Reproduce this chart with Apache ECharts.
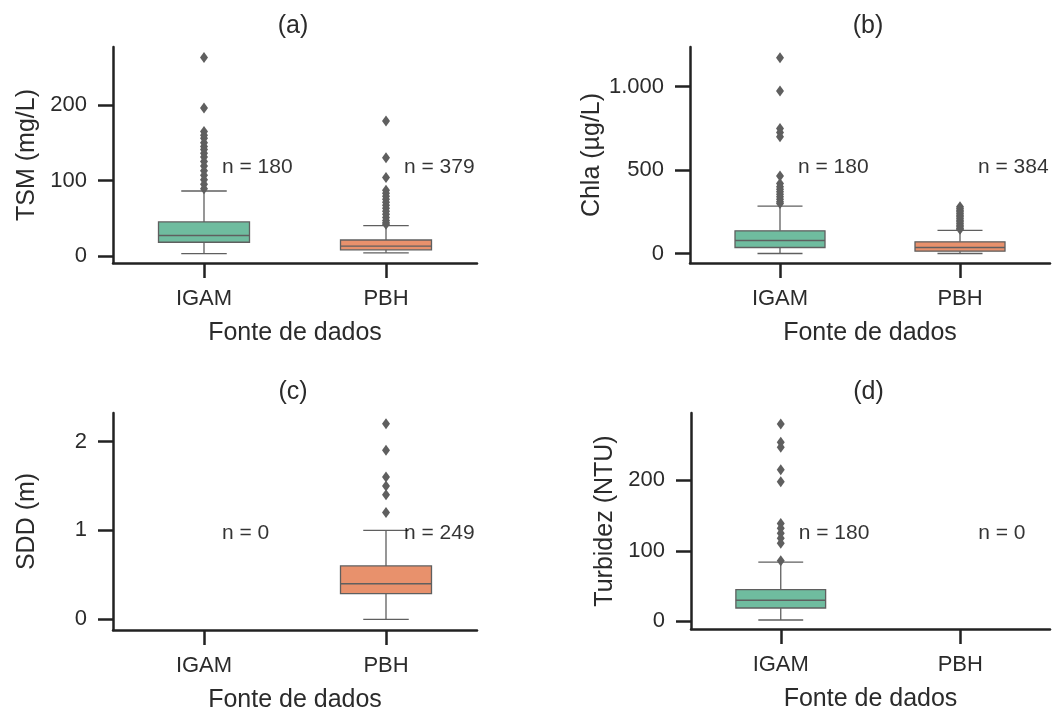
<!DOCTYPE html>
<html><head><meta charset="utf-8">
<script src="https://cdn.jsdelivr.net/npm/echarts@6/dist/echarts.min.js"></script>
<style>html,body{margin:0;padding:0;background:#fff}#c{width:1055px;height:707px}</style>
</head><body><div id="c"></div>
<script>
// ---- data ----
const categories = ['IGAM', 'PBH'];
const panelTitles = ['(a)', '(b)', '(c)', '(d)'];
const yNames = ['TSM (mg/L)', 'Chla (µg/L)', 'SDD (m)', 'Turbidez (NTU)'];
const xName = 'Fonte de dados';
// box stats per category: [lower whisker, Q1, median, Q3, upper whisker]; null = no data
const tsmStats = [[3, 18, 27, 45, 86], [4, 8, 13, 21, 40]];
const tsmOutIGAM = [263, 196, 165, 160, 156, 150, 145, 141, 136, 131, 125, 119, 113, 107, 101, 95, 89];
const tsmOutPBH = [179, 130, 104, 87, 83, 79, 75, 71, 67, 63, 59, 55, 51, 47, 44, 42];
const chlaStats = [[0, 36, 78, 136, 284], [0, 14, 36, 70, 138]];
const chlaOutIGAM = [1174, 974, 750, 725, 700, 464, 420, 400, 385, 370, 355, 340, 325, 310, 300];
const chlaOutPBH = [280, 270, 260, 250, 240, 230, 220, 210, 200, 190, 180, 170, 160, 150, 145];
const sddStats = [null, [0, 0.29, 0.40, 0.60, 1.0]];
const sddOutIGAM = [];
const sddOutPBH = [2.2, 1.9, 1.6, 1.5, 1.4, 1.2];
const turbStats = [[2, 19, 30, 45, 84], null];
const turbOutIGAM = [280, 254, 247, 215, 198, 139, 132, 125, 118, 111, 86];
const turbOutPBH = [];
const nCounts = [[180, 379], [180, 384], [0, 249], [180, 0]];
const tickValues = [[0, 100, 200], [0, 500, 1000], [0, 1, 2], [0, 100, 200]];
const tickLabels = [['0', '100', '200'], ['0', '500', '1.000'], ['0', '1', '2'], ['0', '100', '200']];

// ---- layout / style ----
const FONT = '"Liberation Sans", Arial, sans-serif';
const TXT = '#2b2b2b';
const AX = '#222';
const LINE = '#5f5f5f';
const boxColors = ['#6fbc9f', '#e8916c'];
const grids = [
  {left: 113, top: 47, width: 364, height: 216},
  {left: 690, top: 47, width: 360, height: 216},
  {left: 113, top: 413, width: 364, height: 217},
  {left: 691, top: 413, width: 359, height: 216}
];
const yRanges = [[-9.5, 277], [-57, 1238], [-0.12, 2.32], [-10.8, 295.6]];
const statsAll = [tsmStats, chlaStats, sddStats, turbStats];
const outAll = [[tsmOutIGAM, tsmOutPBH], [chlaOutIGAM, chlaOutPBH], [sddOutIGAM, sddOutPBH], [turbOutIGAM, turbOutPBH]];

function renderBox(params, api) {
  const cat = api.value(0);
  const v = [1, 2, 3, 4, 5].map(i => api.coord([cat, api.value(i)])[1]);
  const x = api.coord([cat, api.value(3)])[0];
  const band = api.size([1, 0])[0];
  const bw = band * 0.5, cw = bw / 2;
  const ls = {stroke: LINE, lineWidth: 1.3};
  return {type: 'group', children: [
    {type: 'line', shape: {x1: x, y1: v[1], x2: x, y2: v[0]}, style: ls},
    {type: 'line', shape: {x1: x, y1: v[3], x2: x, y2: v[4]}, style: ls},
    {type: 'line', shape: {x1: x - cw / 2, y1: v[0], x2: x + cw / 2, y2: v[0]}, style: ls},
    {type: 'line', shape: {x1: x - cw / 2, y1: v[4], x2: x + cw / 2, y2: v[4]}, style: ls},
    {type: 'rect', shape: {x: x - bw / 2, y: v[3], width: bw, height: v[1] - v[3]},
      style: {fill: boxColors[cat], stroke: LINE, lineWidth: 1.3}},
    {type: 'line', shape: {x1: x - bw / 2, y1: v[2], x2: x + bw / 2, y2: v[2]}, style: ls}
  ]};
}

const option = {
  animation: false,
  textStyle: {fontFamily: FONT},
  grid: grids.map(g => Object.assign({containLabel: false, outerBoundsMode: 'none'}, g)),
  xAxis: grids.map((g, i) => ({
    type: 'category', gridIndex: i, data: categories,
    name: xName, nameLocation: 'middle', nameGap: 58,
    nameTextStyle: {fontSize: 25, color: TXT, fontFamily: FONT},
    axisLine: {onZero: false, lineStyle: {color: AX, width: 2.5}},
    axisTick: {show: true, interval: 0, alignWithLabel: true, length: 15, lineStyle: {color: AX, width: 2.5}},
    axisLabel: {fontSize: 22, color: TXT, margin: 25, interval: 0, fontFamily: FONT},
    splitLine: {show: false}
  })),
  yAxis: grids.map((g, i) => ({
    type: 'value', gridIndex: i, min: yRanges[i][0], max: yRanges[i][1],
    name: yNames[i], nameLocation: 'middle', nameGap: 73,
    nameTextStyle: {fontSize: 25, color: TXT, fontFamily: FONT},
    axisLine: {show: true, onZero: false, lineStyle: {color: AX, width: 2.5}},
    axisTick: {show: true, length: 15, customValues: tickValues[i], lineStyle: {color: AX, width: 2.5}},
    axisLabel: {fontSize: 22, color: TXT, margin: 26, fontFamily: FONT, customValues: tickValues[i],
      formatter: (val) => { const k = tickValues[i].indexOf(val); return k >= 0 ? tickLabels[i][k] : ''; }},
    splitLine: {show: false}
  })),
  graphic: grids.map((g, i) => ({
    type: 'text', x: g.left + g.width / 2 - 2, y: g.top - 21,
    style: {text: panelTitles[i], font: '25px ' + FONT, fill: TXT, align: 'center', verticalAlign: 'middle'}
  })),
  series: []
};

statsAll.forEach((stats, i) => {
  const boxData = [];
  stats.forEach((s, c) => { if (s) boxData.push([c].concat(s)); });
  option.series.push({
    type: 'custom', xAxisIndex: i, yAxisIndex: i, renderItem: renderBox,
    encode: {x: 0, y: [1, 2, 3, 4, 5]}, data: boxData, z: 2
  });
  const outData = [];
  outAll[i].forEach((arr, c) => arr.forEach(v => outData.push([c, v])));
  option.series.push({
    type: 'scatter', xAxisIndex: i, yAxisIndex: i, symbol: 'diamond', symbolSize: [8, 11],
    itemStyle: {color: LINE, opacity: 1}, data: outData, z: 3
  });
  const yr = yRanges[i];
  const yLab = yr[0] + 0.445 * (yr[1] - yr[0]);
  option.series.push({
    type: 'scatter', xAxisIndex: i, yAxisIndex: i, symbolSize: 0, silent: true,
    data: categories.map((c, k) => [k, yLab]),
    label: {show: true, position: 'right', distance: 18, fontSize: 21, color: '#000', fontFamily: FONT,
      formatter: (p) => 'n = ' + nCounts[i][p.dataIndex]},
    z: 4
  });
});

const chart = echarts.init(document.getElementById('c'), null, {renderer: 'canvas'});
chart.setOption(option);
</script></body></html>
